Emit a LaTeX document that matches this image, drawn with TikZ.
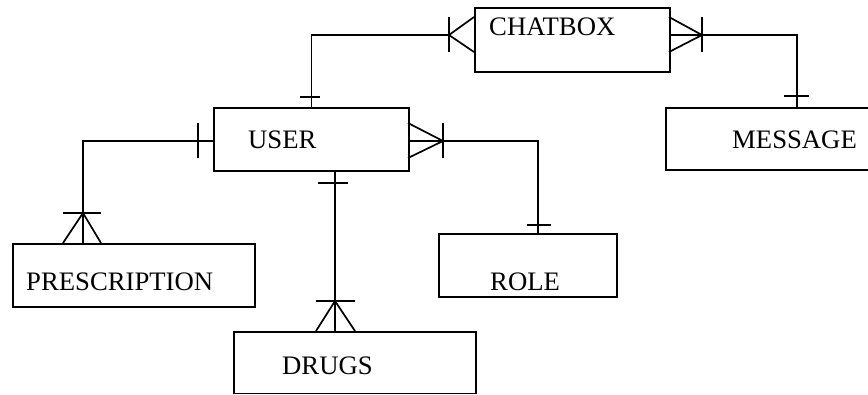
\documentclass[tikz,border=0pt]{standalone}
\usepackage{fontspec}
\setmainfont{Liberation Serif}
\begin{document}
\begin{tikzpicture}[x=1pt,y=-1pt,
  ent/.style={draw,line width=1.7pt,rectangle,inner sep=0pt,anchor=north west},
  lbl/.style={anchor=base west,inner sep=0pt,font=\fontsize{26.7}{30}\selectfont},
  conn/.style={line width=1.7pt},
  tick/.style={line width=1.7pt}]
\useasboundingbox (0,0) rectangle (868,394);
% entities
\node[ent,minimum width=195pt,minimum height=64pt] (chatbox) at (474,7) {};
\node[ent,minimum width=195pt,minimum height=63pt] (user) at (213,107) {};
\node[ent,minimum width=210pt,minimum height=62pt] (message) at (665,107) {};
\node[ent,minimum width=242pt,minimum height=63pt] (prescription) at (12,243) {};
\node[ent,minimum width=178pt,minimum height=63pt] (role) at (438,233) {};
\node[ent,minimum width=242pt,minimum height=61.5pt] (drugs) at (233,331) {};
% labels
\node[lbl] (chatbox-t) at (489,35) {CHATBOX};
\node[lbl] (user-t) at (248,148) {USER};
\node[lbl] (message-t) at (732,148) {MESSAGE};
\node[lbl] (prescription-t) at (26,290) {PRESCRIPTION};
\node[lbl] (role-t) at (490,290) {ROLE};
\node[lbl] (drugs-t) at (282,374) {DRUGS};
% connector end points
\coordinate (cb-l) at (449,35);
\coordinate (cb-r) at (669,35);
\coordinate (msg-n) at (797,107);
\coordinate (u-l) at (213,141);
\coordinate (u-r) at (408,141);
\coordinate (u-s) at (335,170);
\coordinate (pr-n) at (83,243);
\coordinate (ro-n) at (538,233);
\coordinate (dr-n) at (335,331);
% connectors
\draw[conn] (cb-l) -| (user.north);
\draw[conn] (cb-r) -| (msg-n);
\draw[conn] (u-l) -| (pr-n);
\draw[conn] (u-r) -| (ro-n);
\draw[conn] (u-s) -- (dr-n);
% chatbox left: many + one
\draw[tick] (474,17) -- (449,35) -- (474,52);
\draw[tick] (449,17) -- (449,52);
\draw[tick] (300,97) -- (320,97);
% chatbox right: many + one
\draw[tick] (669,17) -- (702,35) -- (669,52);
\draw[tick] (702,17) -- (702,52);
\draw[tick] (784,96) -- (809,96);
% user - prescription
\draw[tick] (198,123) -- (198,158);
\draw[tick] (63,243) -- (83,213) -- (101,243);
\draw[tick] (63,213) -- (101,213);
% user - role
\draw[tick] (408,123) -- (443,141) -- (408,158);
\draw[tick] (443,123) -- (443,158);
\draw[tick] (527,225) -- (551,225);
% user - drugs
\draw[tick] (318,183) -- (348,183);
\draw[tick] (316,331) -- (335,301) -- (355,331);
\draw[tick] (316,301) -- (355,301);
\end{tikzpicture}
\end{document}
